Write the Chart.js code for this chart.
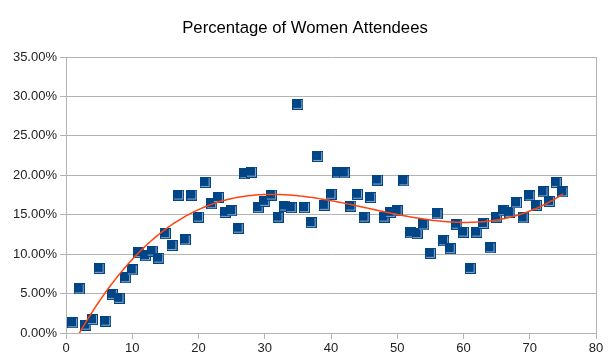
<!DOCTYPE html>
<html>
<head>
<meta charset="utf-8">
<script src="https://cdn.jsdelivr.net/npm/chart.js@4/dist/chart.umd.min.js"></script>
<style>
  html, body { margin: 0; padding: 0; background: #fff; }
  #wrap { width: 610px; height: 364px; }
</style>
</head>
<body>
<div id="wrap"><canvas id="chart"></canvas></div>
<script>
// Daten (Veranstaltung Nr. / Anteil Frauen in %)
const eventNumbers = [
   1,  2,  3,  4,  5,  6,  7,  8,  9, 10,
  11, 12, 13, 14, 15, 16, 17, 18, 19, 20,
  21, 22, 23, 24, 25, 26, 27, 28, 29, 30,
  31, 32, 33, 34, 35, 36, 37, 38, 39, 40,
  41, 42, 43, 44, 45, 46, 47, 48, 49, 50,
  51, 52, 53, 54, 55, 56, 57, 58, 59, 60,
  61, 62, 63, 64, 65, 66, 67, 68, 69, 70,
  71, 72, 73, 74, 75
];
const womenPercent = [
   1.3,  5.6,  1.0,  1.7,  8.2,  1.5,  4.9,  4.4,  7.0,  8.0,
  10.2,  9.8, 10.4,  9.5, 12.6, 11.1, 17.5, 11.8, 17.5, 14.7,
  19.1, 16.4, 17.2, 15.3, 15.5, 13.3, 20.2, 20.4, 15.9, 16.7,
  17.5, 14.7, 16.1, 15.9, 29.0, 15.9, 14.0, 22.4, 16.2, 17.6,
  20.3, 20.3, 16.1, 17.6, 14.7, 17.2, 19.4, 14.7, 15.3, 15.5,
  19.3, 12.7, 12.6, 13.7, 10.1, 15.1, 11.7, 10.7, 13.8, 12.8,
   8.2, 12.8, 13.9, 10.8, 14.7, 15.5, 15.3, 16.5, 14.6, 17.4,
  16.2, 17.9, 16.7, 19.1, 17.9
];
const xTicks = [0, 10, 20, 30, 40, 50, 60, 70, 80];
const yTicks = [0, 5, 10, 15, 20, 25, 30, 35];

// Polynom-Trendlinie 3. Grades (Kleinste Quadrate)
function cubicFit(xs, ys) {
    const n = 4;
    const A = [];
    for (let r = 0; r < n; r++) {
        A.push(new Array(n + 1).fill(0));
    }
    xs.forEach((x, i) => {
        for (let r = 0; r < n; r++) {
            for (let c = 0; c < n; c++) A[r][c] += Math.pow(x, r + c);
            A[r][n] += ys[i] * Math.pow(x, r);
        }
    });
    for (let p = 0; p < n; p++) {
        let max = p;
        for (let r = p + 1; r < n; r++) if (Math.abs(A[r][p]) > Math.abs(A[max][p])) max = r;
        [A[p], A[max]] = [A[max], A[p]];
        for (let r = p + 1; r < n; r++) {
            const f = A[r][p] / A[p][p];
            for (let c = p; c <= n; c++) A[r][c] -= f * A[p][c];
        }
    }
    const coef = new Array(n).fill(0);
    for (let r = n - 1; r >= 0; r--) {
        let s = A[r][n];
        for (let c = r + 1; c < n; c++) s -= A[r][c] * coef[c];
        coef[r] = s / A[r][r];
    }
    return coef;
}

const coef = cubicFit(eventNumbers, womenPercent);
const trendPoints = [];
const xFirst = eventNumbers[0];
const xLast = eventNumbers[eventNumbers.length - 1];
for (let x = xFirst; x <= xLast + 1e-9; x += 0.25) {
    trendPoints.push({ x: x, y: coef[0] + coef[1] * x + coef[2] * x * x + coef[3] * x * x * x });
}

// Quadratischer Marker im LibreOffice-Stil
const marker = document.createElement('canvas');
marker.width = 11;
marker.height = 11;
const mctx = marker.getContext('2d');
mctx.fillStyle = '#004586';
mctx.fillRect(0, 0, 11, 11);
mctx.fillStyle = '#8ea8cc';
mctx.fillRect(9, 1, 1, 9);
mctx.fillRect(1, 9, 9, 1);

const gridColor = '#b3b3b3';

Chart.defaults.font.family = "'Liberation Sans', Arial, sans-serif";
Chart.defaults.color = '#333333';

new Chart(document.getElementById('chart'), {
    type: 'scatter',
    data: {
        datasets: [
            {
                type: 'line',
                label: 'Trend',
                data: trendPoints,
                borderColor: '#ff420e',
                borderWidth: 1.5,
                pointRadius: 0,
                fill: false,
                tension: 0
            },
            {
                label: 'Percentage of Women Attendees',
                data: eventNumbers.map((x, i) => ({ x: x, y: womenPercent[i] })),
                pointStyle: marker,
                pointRadius: 6,
                pointHoverRadius: 6,
                backgroundColor: '#004586',
                borderColor: '#004586'
            }
        ]
    },
    options: {
        responsive: true,
        maintainAspectRatio: false,
        animation: false,
        layout: { padding: 0 },
        plugins: {
            legend: { display: false },
            tooltip: { enabled: false },
            title: {
                display: true,
                text: 'Percentage of Women Attendees',
                color: '#000000',
                font: { size: 16.7, weight: 'normal' },
                padding: { top: 18, bottom: 19 }
            }
        },
        scales: {
            x: {
                type: 'linear',
                min: 0,
                max: 80,
                afterBuildTicks: axis => { axis.ticks = xTicks.map(v => ({ value: v })); },
                afterFit: axis => { axis.height = 31; },
                ticks: { font: { size: 13 }, color: '#222222', padding: 2 },
                border: { display: true, color: gridColor },
                grid: {
                    color: ctx => (ctx.tick && ctx.tick.value === 80 ? gridColor : 'rgba(0,0,0,0)'),
                    tickColor: gridColor,
                    tickLength: 6
                }
            },
            y: {
                min: 0,
                max: 35,
                afterBuildTicks: axis => { axis.ticks = yTicks.map(v => ({ value: v })); },
                afterFit: axis => { axis.width = 66; },
                ticks: {
                    font: { size: 13 },
                    color: '#222222',
                    padding: 3,
                    callback: v => v.toFixed(2) + '%'
                },
                border: { display: true, color: gridColor },
                grid: { color: gridColor, tickColor: gridColor, tickLength: 6 }
            },
            // leere rechte Achse als Rand, damit der Titel über die ganze Breite zentriert ist
            yRight: {
                position: 'right',
                min: 0,
                max: 35,
                afterFit: axis => { axis.width = 14; },
                ticks: { display: false },
                border: { display: false },
                grid: { display: false }
            }
        }
    }
});
</script>
</body>
</html>
